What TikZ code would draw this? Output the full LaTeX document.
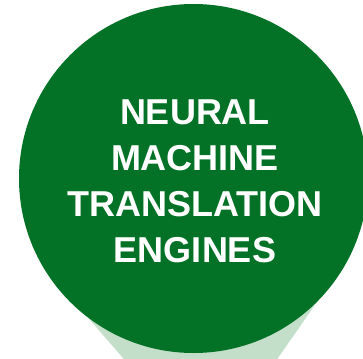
\documentclass[tikz,border=0pt]{standalone}
\usepackage{fontspec}
\setmainfont{Liberation Sans}
\usepackage{tikz}
\usepackage{xcolor}
\definecolor{nmtgreen}{RGB}{4,114,38}
\definecolor{palegreen}{RGB}{195,223,202}

\begin{document}
\begin{tikzpicture}
  [x=1pt,y=-1pt,every node/.style={inner sep=0pt,outer sep=0pt}]
  \useasboundingbox (0,0) rectangle (363,358);
  \clip (0,0) rectangle (363,358);

  % pale shape peeking out below the disc
  \fill[palegreen] (59.7,285) -- (133.4,370) -- (269.6,370) -- (328.8,285) -- cycle;

  \node[circle,fill=nmtgreen,minimum size=349pt] (disc) at (193.5,178.5) {};
  \node[text=white,align=center,font=\fontsize{36}{46}\selectfont\bfseries] (title) at (195,181)
    {NEURAL\\MACHINE\\TRANSLATION\\ENGINES};

\end{tikzpicture}
\end{document}
